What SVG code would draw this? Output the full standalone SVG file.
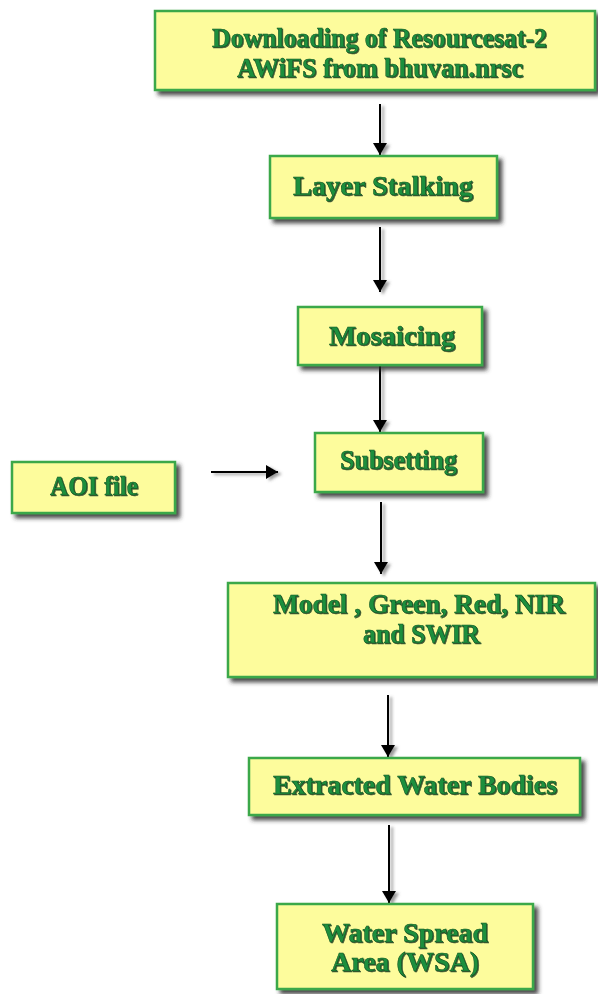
<svg xmlns="http://www.w3.org/2000/svg" width="598" height="994" viewBox="0 0 598 994">
<defs>
<style>
.box{fill:#fdfc9c;stroke:#3aa84a;stroke-width:2.5;filter:url(#bs)}
.t{font-family:"Liberation Serif","Times New Roman",serif;font-weight:bold;font-size:28px;fill:#1f8f3e;stroke:#0e4d1e;stroke-width:0.5;filter:url(#ts)}
.c{stroke:#000;stroke-width:2;fill:none;marker-end:url(#ah)}
</style>
<filter id="bs" x="-10%" y="-20%" width="130%" height="160%">
<feDropShadow dx="4" dy="4" stdDeviation="2" flood-color="#2a2a2a" flood-opacity="0.85"/>
</filter>
<filter id="ts" x="-5%" y="-20%" width="110%" height="150%">
<feDropShadow dx="1" dy="1" stdDeviation="0.6" flood-color="#0a3314" flood-opacity="0.8"/>
</filter>
<filter id="as" filterUnits="userSpaceOnUse" x="0" y="0" width="598" height="994">
<feDropShadow dx="3" dy="2" stdDeviation="1.5" flood-color="#555" flood-opacity="0.6"/>
</filter>
<marker id="ah" viewBox="0 0 12 14" refX="12" refY="7" markerWidth="7" markerHeight="7" orient="auto" markerUnits="strokeWidth">
<path d="M0,0 L12,7 L0,14 Z" fill="#000"/>
</marker>
</defs>
<rect width="598" height="994" fill="#fff"/>
<g id="connectors" filter="url(#as)">
<line class="c" x1="380" y1="104" x2="380" y2="155"/>
<line class="c" x1="380" y1="227" x2="380" y2="292"/>
<line class="c" x1="380" y1="366" x2="380" y2="432"/>
<line class="c" x1="381" y1="502" x2="381" y2="574"/>
<line class="c" x1="388" y1="695" x2="388" y2="757"/>
<line class="c" x1="389" y1="825" x2="389" y2="903"/>
<line class="c" x1="211" y1="472" x2="278" y2="472"/>
</g>
<g id="n1">
<rect class="box" x="155" y="11" width="440" height="79"/>
<text class="t" x="212" y="47" textLength="335" lengthAdjust="spacingAndGlyphs">Downloading of Resourcesat-2</text>
<text class="t" x="237" y="77" textLength="286" lengthAdjust="spacingAndGlyphs">AWiFS from bhuvan.nrsc</text>
</g>
<g id="n2">
<rect class="box" x="270" y="156" width="227" height="62"/>
<text class="t" x="293" y="195" textLength="180" lengthAdjust="spacingAndGlyphs">Layer Stalking</text>
</g>
<g id="n3">
<rect class="box" x="298" y="307" width="184" height="58"/>
<text class="t" x="329" y="345" textLength="126" lengthAdjust="spacingAndGlyphs">Mosaicing</text>
</g>
<g id="n4">
<rect class="box" x="315" y="433" width="168" height="59"/>
<text class="t" x="340" y="469" textLength="117" lengthAdjust="spacingAndGlyphs">Subsetting</text>
</g>
<g id="n5">
<rect class="box" x="12" y="462" width="163" height="51"/>
<text class="t" x="50" y="495" textLength="88" lengthAdjust="spacingAndGlyphs">AOI file</text>
</g>
<g id="n6">
<rect class="box" x="228" y="583" width="367" height="94"/>
<text class="t" x="273" y="613" textLength="292" lengthAdjust="spacingAndGlyphs">Model , Green, Red, NIR</text>
<text class="t" x="363" y="643" textLength="117" lengthAdjust="spacingAndGlyphs">and SWIR</text>
</g>
<g id="n7">
<rect class="box" x="249" y="758" width="331" height="57"/>
<text class="t" x="273" y="794" textLength="284" lengthAdjust="spacingAndGlyphs">Extracted Water Bodies</text>
</g>
<g id="n8">
<rect class="box" x="277" y="904" width="256" height="85"/>
<text class="t" x="322" y="942" textLength="166" lengthAdjust="spacingAndGlyphs">Water Spread</text>
<text class="t" x="331" y="971" textLength="148" lengthAdjust="spacingAndGlyphs">Area (WSA)</text>
</g>
</svg>
